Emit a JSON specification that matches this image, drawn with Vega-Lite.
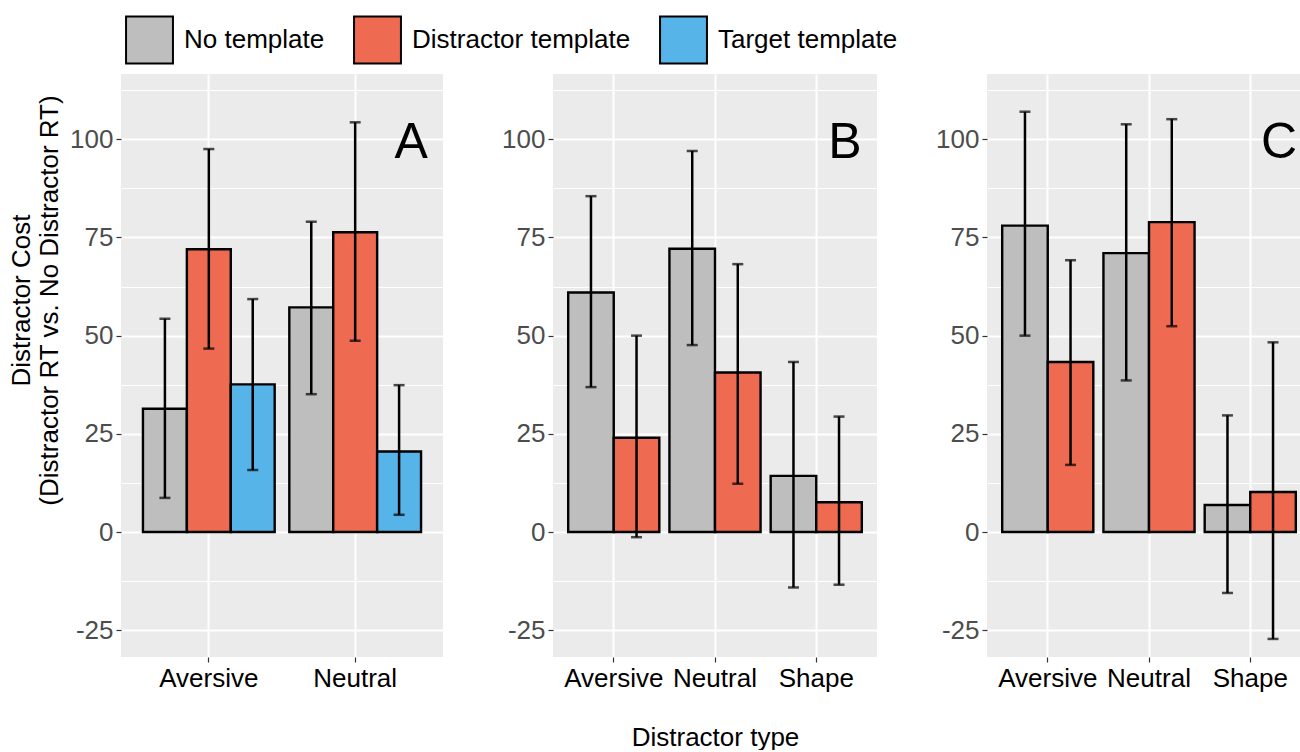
{
  "$schema": "https://vega.github.io/schema/vega-lite/v6.json",
  "background": "white",
  "padding": {"left": 8, "top": 15, "right": 0, "bottom": 0},
  "spacing": 58,
  "datasets": {
    "costs": [
      {"panel": "A", "type": "Aversive", "template": "No template", "cost": 31.4, "lo": 8.7, "hi": 54.3},
      {"panel": "A", "type": "Aversive", "template": "Distractor template", "cost": 72.0, "lo": 46.7, "hi": 97.5},
      {"panel": "A", "type": "Aversive", "template": "Target template", "cost": 37.6, "lo": 15.8, "hi": 59.3},
      {"panel": "A", "type": "Neutral", "template": "No template", "cost": 57.2, "lo": 35.1, "hi": 79.0},
      {"panel": "A", "type": "Neutral", "template": "Distractor template", "cost": 76.3, "lo": 48.7, "hi": 104.3},
      {"panel": "A", "type": "Neutral", "template": "Target template", "cost": 20.5, "lo": 4.4, "hi": 37.4},
      {"panel": "B", "type": "Aversive", "template": "No template", "cost": 61.0, "lo": 36.9, "hi": 85.5},
      {"panel": "B", "type": "Aversive", "template": "Distractor template", "cost": 24.0, "lo": -1.3, "hi": 50.0},
      {"panel": "B", "type": "Neutral", "template": "No template", "cost": 72.1, "lo": 47.6, "hi": 97.0},
      {"panel": "B", "type": "Neutral", "template": "Distractor template", "cost": 40.6, "lo": 12.3, "hi": 68.2},
      {"panel": "B", "type": "Shape", "template": "No template", "cost": 14.3, "lo": -14.1, "hi": 43.3},
      {"panel": "B", "type": "Shape", "template": "Distractor template", "cost": 7.6, "lo": -13.4, "hi": 29.4},
      {"panel": "C", "type": "Aversive", "template": "No template", "cost": 78.0, "lo": 50.0, "hi": 107.0},
      {"panel": "C", "type": "Aversive", "template": "Distractor template", "cost": 43.3, "lo": 17.1, "hi": 69.2},
      {"panel": "C", "type": "Neutral", "template": "No template", "cost": 71.0, "lo": 38.6, "hi": 103.8},
      {"panel": "C", "type": "Neutral", "template": "Distractor template", "cost": 78.9, "lo": 52.4, "hi": 105.1},
      {"panel": "C", "type": "Shape", "template": "No template", "cost": 6.9, "lo": -15.5, "hi": 29.7},
      {"panel": "C", "type": "Shape", "template": "Distractor template", "cost": 10.2, "lo": -27.2, "hi": 48.3}
    ],
    "letters": [
      {"panel": "A", "label": "A", "type": "Neutral", "template": "Target template", "ly": 99},
      {"panel": "B", "label": "B", "type": "Shape", "template": "Distractor template", "ly": 99},
      {"panel": "C", "label": "C", "type": "Shape", "template": "Distractor template", "ly": 99}
    ]
  },
  "config": {
    "font": "Liberation Sans",
    "view": {"fill": "#EBEBEB", "stroke": null},
    "axis": {
      "domain": false,
      "gridColor": "white",
      "tickColor": "#333333",
      "tickSize": 5,
      "tickWidth": 1.2,
      "labelFontSize": 26,
      "labelFont": "Liberation Sans",
      "titleFont": "Liberation Sans",
      "titleFontSize": 26,
      "titleFontWeight": "normal",
      "titleColor": "black"
    }
  },
  "resolve": {"scale": {"x": "independent", "xOffset": "independent", "y": "independent"}},
  "hconcat": [
    {
      "width": 322,
      "height": 583,
      "layer": [
        {
          "data": {"name": "costs"},
          "transform": [{"filter": "datum.panel == 'A'"}],
          "mark": {"type": "bar", "stroke": "black", "strokeWidth": 2.4, "opacity": 1},
          "encoding": {
            "x": {"field": "type", "type": "nominal", "scale": {"domain": ["Aversive", "Neutral"], "paddingInner": 0.1, "paddingOuter": 0.15},
              "axis": {"title": null, "labelAngle": 0, "labelColor": "black", "labelPadding": 3, "grid": true, "gridWidth": 2, "bandPosition": 0.5}},
            "xOffset": {"field": "template", "scale": {"domain": ["No template", "Distractor template", "Target template"], "paddingInner": 0, "paddingOuter": 0}},
            "y": {"field": "cost", "type": "quantitative", "scale": {"domain": [-31.8, 116.6], "nice": false, "zero": false},
              "axis": {
                "values": [-25, -12.5, 0, 12.5, 25, 37.5, 50, 62.5, 75, 87.5, 100, 112.5],
                "labelExpr": "datum.value % 25 == 0 ? '' + datum.value : ''",
                "labelColor": "#4D4D4D", "labelPadding": 3,
                "tickOpacity": {"condition": {"test": "datum.value % 25 != 0", "value": 0}, "value": 1},
                "gridWidth": {"condition": {"test": "datum.value % 25 != 0", "value": 1}, "value": 2},
                "title": ["Distractor Cost", "(Distractor RT vs. No Distractor RT)"],
                "titleLineHeight": 28, "titlePadding": 7, "titleY": 226
              }},
            "color": {"field": "template", "type": "nominal",
              "scale": {"domain": ["No template", "Distractor template", "Target template"], "range": ["#BEBEBE", "#EE6A50", "#56B4E9"]},
              "legend": {"title": null, "orient": "none", "direction": "horizontal", "legendX": 4, "legendY": -58.6,
                "symbolType": "square", "symbolSize": 2200, "symbolStrokeColor": "black", "symbolStrokeWidth": 2, "symbolOpacity": 1,
                "labelFontSize": 26, "labelColor": "black", "labelOffset": 10, "labelLimit": 500, "columnPadding": 25, "labelFont": "Liberation Sans"}}
          }
        },
        {
          "data": {"name": "costs"},
          "transform": [{"filter": "datum.panel == 'A'"}],
          "mark": {"type": "rule", "color": "black", "strokeWidth": 2.5},
          "encoding": {
            "x": {"field": "type", "type": "nominal"},
            "xOffset": {"field": "template"},
            "y": {"field": "lo", "type": "quantitative"},
            "y2": {"field": "hi"}
          }
        },
        {
          "data": {"name": "costs"},
          "transform": [{"filter": "datum.panel == 'A'"}],
          "mark": {"type": "tick", "orient": "horizontal", "color": "black", "size": 11, "thickness": 2.5},
          "encoding": {
            "x": {"field": "type", "type": "nominal"},
            "xOffset": {"field": "template"},
            "y": {"field": "lo", "type": "quantitative"}
          }
        },
        {
          "data": {"name": "costs"},
          "transform": [{"filter": "datum.panel == 'A'"}],
          "mark": {"type": "tick", "orient": "horizontal", "color": "black", "size": 11, "thickness": 2.5},
          "encoding": {
            "x": {"field": "type", "type": "nominal"},
            "xOffset": {"field": "template"},
            "y": {"field": "hi", "type": "quantitative"}
          }
        },
        {
          "mark": {"type": "rule", "color": "black", "strokeWidth": 3},
          "encoding": {"y": {"datum": 0}}
        },
        {
          "data": {"name": "letters"},
          "transform": [{"filter": "datum.panel == 'A'"}],
          "mark": {"type": "text", "fontSize": 50, "color": "black", "align": "center", "baseline": "middle", "dx": 12, "font": "Liberation Sans"},
          "encoding": {
            "x": {"field": "type", "type": "nominal"},
            "xOffset": {"field": "template"},
            "y": {"field": "ly", "type": "quantitative"},
            "text": {"field": "label"}
          }
        }
      ]
    },
    {
      "width": 324,
      "height": 583,
      "layer": [
        {
          "data": {"name": "costs"},
          "transform": [{"filter": "datum.panel == 'B'"}],
          "mark": {"type": "bar", "stroke": "black", "strokeWidth": 2.4, "opacity": 1},
          "encoding": {
            "x": {"field": "type", "type": "nominal", "scale": {"domain": ["Aversive", "Neutral", "Shape"], "paddingInner": 0.1, "paddingOuter": 0.15},
              "axis": {"title": "Distractor type", "titlePadding": 33, "labelAngle": 0, "labelColor": "black", "labelPadding": 3, "grid": true, "gridWidth": 2, "bandPosition": 0.5}},
            "xOffset": {"field": "template", "scale": {"domain": ["No template", "Distractor template"], "paddingInner": 0, "paddingOuter": 0}},
            "y": {"field": "cost", "type": "quantitative", "scale": {"domain": [-31.8, 116.6], "nice": false, "zero": false},
              "axis": {
                "values": [-25, -12.5, 0, 12.5, 25, 37.5, 50, 62.5, 75, 87.5, 100, 112.5],
                "labelExpr": "datum.value % 25 == 0 ? '' + datum.value : ''",
                "labelColor": "#4D4D4D", "labelPadding": 3,
                "tickOpacity": {"condition": {"test": "datum.value % 25 != 0", "value": 0}, "value": 1},
                "gridWidth": {"condition": {"test": "datum.value % 25 != 0", "value": 1}, "value": 2},
                "title": null
              }},
            "color": {"field": "template", "type": "nominal",
              "scale": {"domain": ["No template", "Distractor template", "Target template"], "range": ["#BEBEBE", "#EE6A50", "#56B4E9"]}}
          }
        },
        {
          "data": {"name": "costs"},
          "transform": [{"filter": "datum.panel == 'B'"}],
          "mark": {"type": "rule", "color": "black", "strokeWidth": 2.5},
          "encoding": {
            "x": {"field": "type", "type": "nominal"},
            "xOffset": {"field": "template"},
            "y": {"field": "lo", "type": "quantitative"},
            "y2": {"field": "hi"}
          }
        },
        {
          "data": {"name": "costs"},
          "transform": [{"filter": "datum.panel == 'B'"}],
          "mark": {"type": "tick", "orient": "horizontal", "color": "black", "size": 11, "thickness": 2.5},
          "encoding": {
            "x": {"field": "type", "type": "nominal"},
            "xOffset": {"field": "template"},
            "y": {"field": "lo", "type": "quantitative"}
          }
        },
        {
          "data": {"name": "costs"},
          "transform": [{"filter": "datum.panel == 'B'"}],
          "mark": {"type": "tick", "orient": "horizontal", "color": "black", "size": 11, "thickness": 2.5},
          "encoding": {
            "x": {"field": "type", "type": "nominal"},
            "xOffset": {"field": "template"},
            "y": {"field": "hi", "type": "quantitative"}
          }
        },
        {
          "mark": {"type": "rule", "color": "black", "strokeWidth": 3},
          "encoding": {"y": {"datum": 0}}
        },
        {
          "data": {"name": "letters"},
          "transform": [{"filter": "datum.panel == 'B'"}],
          "mark": {"type": "text", "fontSize": 50, "color": "black", "align": "center", "baseline": "middle", "dx": 6, "font": "Liberation Sans"},
          "encoding": {
            "x": {"field": "type", "type": "nominal"},
            "xOffset": {"field": "template"},
            "y": {"field": "ly", "type": "quantitative"},
            "text": {"field": "label"}
          }
        }
      ]
    },
    {
      "width": 314,
      "height": 583,
      "layer": [
        {
          "data": {"name": "costs"},
          "transform": [{"filter": "datum.panel == 'C'"}],
          "mark": {"type": "bar", "stroke": "black", "strokeWidth": 2.4, "opacity": 1},
          "encoding": {
            "x": {"field": "type", "type": "nominal", "scale": {"domain": ["Aversive", "Neutral", "Shape"], "paddingInner": 0.1, "paddingOuter": 0.15, "range": [0, 324]},
              "axis": {"title": null, "labelAngle": 0, "labelColor": "black", "labelPadding": 3, "grid": true, "gridWidth": 2, "bandPosition": 0.5}},
            "xOffset": {"field": "template", "scale": {"domain": ["No template", "Distractor template"], "paddingInner": 0, "paddingOuter": 0}},
            "y": {"field": "cost", "type": "quantitative", "scale": {"domain": [-31.8, 116.6], "nice": false, "zero": false},
              "axis": {
                "values": [-25, -12.5, 0, 12.5, 25, 37.5, 50, 62.5, 75, 87.5, 100, 112.5],
                "labelExpr": "datum.value % 25 == 0 ? '' + datum.value : ''",
                "labelColor": "#4D4D4D", "labelPadding": 3,
                "tickOpacity": {"condition": {"test": "datum.value % 25 != 0", "value": 0}, "value": 1},
                "gridWidth": {"condition": {"test": "datum.value % 25 != 0", "value": 1}, "value": 2},
                "title": null
              }},
            "color": {"field": "template", "type": "nominal",
              "scale": {"domain": ["No template", "Distractor template", "Target template"], "range": ["#BEBEBE", "#EE6A50", "#56B4E9"]}}
          }
        },
        {
          "data": {"name": "costs"},
          "transform": [{"filter": "datum.panel == 'C'"}],
          "mark": {"type": "rule", "color": "black", "strokeWidth": 2.5},
          "encoding": {
            "x": {"field": "type", "type": "nominal"},
            "xOffset": {"field": "template"},
            "y": {"field": "lo", "type": "quantitative"},
            "y2": {"field": "hi"}
          }
        },
        {
          "data": {"name": "costs"},
          "transform": [{"filter": "datum.panel == 'C'"}],
          "mark": {"type": "tick", "orient": "horizontal", "color": "black", "size": 11, "thickness": 2.5},
          "encoding": {
            "x": {"field": "type", "type": "nominal"},
            "xOffset": {"field": "template"},
            "y": {"field": "lo", "type": "quantitative"}
          }
        },
        {
          "data": {"name": "costs"},
          "transform": [{"filter": "datum.panel == 'C'"}],
          "mark": {"type": "tick", "orient": "horizontal", "color": "black", "size": 11, "thickness": 2.5},
          "encoding": {
            "x": {"field": "type", "type": "nominal"},
            "xOffset": {"field": "template"},
            "y": {"field": "hi", "type": "quantitative"}
          }
        },
        {
          "mark": {"type": "rule", "color": "black", "strokeWidth": 3},
          "encoding": {"y": {"datum": 0}}
        },
        {
          "data": {"name": "letters"},
          "transform": [{"filter": "datum.panel == 'C'"}],
          "mark": {"type": "text", "fontSize": 50, "color": "black", "align": "center", "baseline": "middle", "dx": 6, "font": "Liberation Sans"},
          "encoding": {
            "x": {"field": "type", "type": "nominal"},
            "xOffset": {"field": "template"},
            "y": {"field": "ly", "type": "quantitative"},
            "text": {"field": "label"}
          }
        }
      ]
    }
  ]
}
